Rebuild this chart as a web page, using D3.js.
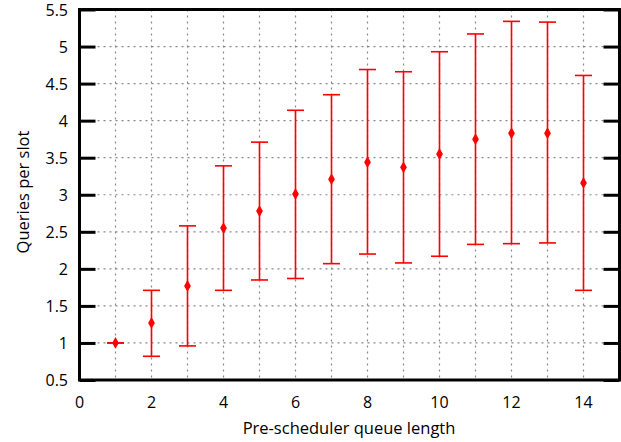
<!DOCTYPE html>
<html>
<head>
<meta charset="utf-8">
<script src="https://cdn.jsdelivr.net/npm/d3@7"></script>
<style>
  body { margin: 0; background: #fff; }
  svg { display: block; }
  text { font-family: "Open Sans", sans-serif; fill: #000; }
</style>
</head>
<body>
<svg id="chart" width="621" height="442"></svg>
<script>
// queue length -> mean and spread of queries per slot
var queueLen = [1, 2, 3, 4, 5, 6, 7, 8, 9, 10, 11, 12, 13, 14];
var meanVals = [1.00, 1.27, 1.77, 2.55, 2.78, 3.01, 3.21, 3.44, 3.37, 3.55, 3.75, 3.83, 3.83, 3.16];
var lowVals  = [1.00, 0.82, 0.96, 1.71, 1.85, 1.87, 2.07, 2.20, 2.08, 2.17, 2.33, 2.34, 2.35, 1.71];
var highVals = [1.00, 1.71, 2.58, 3.39, 3.71, 4.14, 4.35, 4.69, 4.66, 4.93, 5.17, 5.34, 5.33, 4.61];
var xTicks = [0, 2, 4, 6, 8, 10, 12, 14];
var yTicks = [0.5, 1, 1.5, 2, 2.5, 3, 3.5, 4, 4.5, 5, 5.5];

var data = queueLen.map(function (q, i) {
    return { x: q, y: meanVals[i], lo: lowVals[i], hi: highVals[i] };
});

var svg = d3.select('#chart');
var plotL = 79.5, plotR = 619.5, plotT = 9.5, plotB = 380;

var x = d3.scaleLinear().domain([0, 15]).range([plotL, plotR]);
var y = d3.scaleLinear().domain([0.5, 5.5]).range([plotB, plotT]);

// grid
var grid = svg.append('g').attr('class', 'grid')
    .style('stroke', '#888').style('stroke-width', 1.2).style('stroke-dasharray', '2,4');
grid.selectAll('.vgrid')
    .data(d3.range(1, 15))
    .enter().append('line')
    .attr('x1', function (d) { return x(d); })
    .attr('x2', function (d) { return x(d); })
    .attr('y1', plotT).attr('y2', plotB);
grid.selectAll('.hgrid')
    .data(yTicks.slice(1, -1))
    .enter().append('line')
    .attr('y1', function (d) { return y(d); })
    .attr('y2', function (d) { return y(d); })
    .attr('x1', plotL).attr('x2', plotR);

// y axes, ticks pointing inward on both sides
var yLeft = svg.append('g')
    .attr('transform', 'translate(' + plotL + ',0)')
    .call(d3.axisRight(y).tickValues(yTicks).tickSize(16).tickFormat(''));
var yRight = svg.append('g')
    .attr('transform', 'translate(' + plotR + ',0)')
    .call(d3.axisLeft(y).tickValues(yTicks).tickSize(16).tickFormat(''));
[yLeft, yRight].forEach(function (g) {
    g.select('.domain').remove();
    g.selectAll('line').attr('stroke', '#000').attr('stroke-width', 3);
});

// y labels
svg.append('g').selectAll('text')
    .data(yTicks)
    .enter().append('text')
    .attr('x', 68)
    .attr('y', function (d) { return y(d) + 6; })
    .attr('text-anchor', 'end')
    .style('font-size', '16px')
    .text(function (d) { return d; });

// x labels
svg.append('g').selectAll('text')
    .data(xTicks)
    .enter().append('text')
    .attr('x', function (d) { return x(d); })
    .attr('y', 408)
    .attr('text-anchor', 'middle')
    .style('font-size', '16px')
    .text(function (d) { return d; });

// frame
svg.append('rect')
    .attr('x', plotL).attr('y', plotT)
    .attr('width', plotR - plotL).attr('height', plotB - plotT)
    .attr('fill', 'none').attr('stroke', '#000').attr('stroke-width', 3);

// error bars
var bars = svg.append('g').attr('stroke', '#ff0000').attr('stroke-width', 1.6);
bars.selectAll('.stem')
    .data(data)
    .enter().append('line')
    .attr('x1', function (d) { return x(d.x); })
    .attr('x2', function (d) { return x(d.x); })
    .attr('y1', function (d) { return y(d.lo); })
    .attr('y2', function (d) { return y(d.hi); });
bars.selectAll('.capHi')
    .data(data)
    .enter().append('line')
    .attr('x1', function (d) { return x(d.x) - 8.5; })
    .attr('x2', function (d) { return x(d.x) + 8.5; })
    .attr('y1', function (d) { return y(d.hi); })
    .attr('y2', function (d) { return y(d.hi); });
bars.selectAll('.capLo')
    .data(data)
    .enter().append('line')
    .attr('x1', function (d) { return x(d.x) - 8.5; })
    .attr('x2', function (d) { return x(d.x) + 8.5; })
    .attr('y1', function (d) { return y(d.lo); })
    .attr('y2', function (d) { return y(d.lo); });

// means as diamonds
var diamond = d3.symbol().type(d3.symbolDiamond).size(40);
svg.append('g').selectAll('path')
    .data(data)
    .enter().append('path')
    .attr('d', diamond)
    .attr('transform', function (d) { return 'translate(' + x(d.x) + ',' + y(d.y) + ')'; })
    .attr('fill', '#ff0000');

// axis titles
svg.append('text')
    .attr('x', 349).attr('y', 434)
    .attr('text-anchor', 'middle')
    .style('font-size', '16.5px')
    .text('Pre-scheduler queue length');
svg.append('text')
    .attr('transform', 'translate(29,192) rotate(-90)')
    .attr('text-anchor', 'middle')
    .style('font-size', '16.5px')
    .text('Queries per slot');
</script>
</body>
</html>
